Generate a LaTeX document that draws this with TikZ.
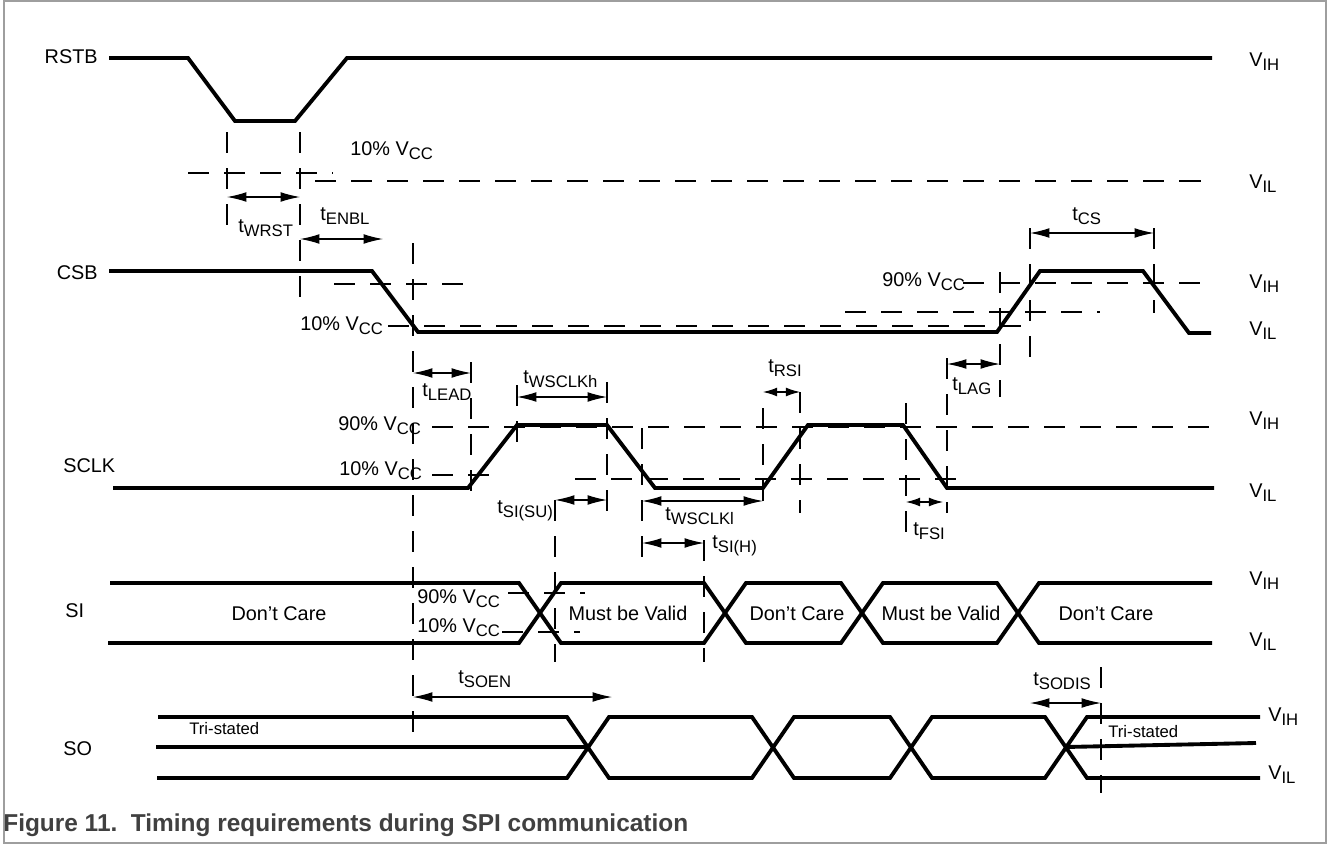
\documentclass[tikz,border=0pt]{standalone}
\usepackage{fontspec}
\setmainfont{Liberation Sans}
\usetikzlibrary{arrows.meta}
\definecolor{framegray}{gray}{0.62}
\definecolor{capgray}{gray}{0.25}
\newcommand{\lowsub}[1]{\raisebox{-2.8pt}{\fontsize{9.5}{10}\selectfont#1}}
\newcommand{\tsub}[1]{t\lowsub{#1}}
\newcommand{\vcc}{V\lowsub{CC}}
\tikzset{>={Latex[length=11pt,width=5.5pt]},
  sig/.style={line width=2.2pt},
  lvl/.style={line width=0.6pt, dash pattern=on 12pt off 8.5pt},
  dim/.style={<->, line width=0.6pt},
  shortdim/.style={dim, >={Latex[length=8pt,width=5pt]}}}

\begin{document}
\begin{tikzpicture}[x=0.02cm, y=-0.02cm, every node/.style={inner sep=0pt, font=\fontsize{11.3}{13.5}\selectfont}]
    \useasboundingbox (0,0) rectangle (1330,845);
    \draw[framegray, line width=0.8pt] (4,1) rectangle (1326,843);

    \node[anchor=base east] (rstb) at (98,63) {RSTB};
    \node[anchor=base east] (csb) at (98,279) {CSB};
    \node[anchor=base west] (sclk) at (63,472) {SCLK};
    \node[anchor=base west] (si) at (65,617) {SI};
    \node[anchor=base west] (so) at (63,755) {SO};
    \foreach \y/\l in {66/IH, 188/IL, 288/IH, 335/IL, 425/IH, 497/IL, 585/IH, 646/IL}
        \node[anchor=base west] (v\y) at (1249,\y) {V\lowsub{\l}};
    \node[anchor=base west] (soh) at (1268,721) {V\lowsub{IH}};
    \node[anchor=base west] (sol) at (1268,779) {V\lowsub{IL}};

    \draw[sig] (109,58) -- (188,58) -- (235,121) -- (295,121) -- (347,58) -- (1212,58);
    \draw[sig] (109,271) -- (372,271) -- (418,332) -- (997,332) -- (1040,271) -- (1143,271) -- (1189,333) -- (1211,333);
    \draw[sig] (113,488) -- (468,488) -- (517,425) -- (607,425) -- (655,488) -- (763,488) -- (808,425) -- (903,425) -- (947,488) -- (1214,488);
    \draw[sig] (110,583) -- (519,583) -- (561,643) -- (704,643) -- (746,583) -- (841,583) -- (883,643) -- (997,643) -- (1039,583) -- (1212,583);
    \draw[sig] (108,643) -- (519,643) -- (561,583) -- (704,583) -- (746,643) -- (841,643) -- (883,583) -- (997,583) -- (1039,643) -- (1212,643);
    \draw[sig] (158,717) -- (567,717) -- (609,778) -- (752,778) -- (794,717) -- (890,717) -- (932,778) -- (1045,778) -- (1087,717) -- (1260,717);
    \draw[sig] (157,778) -- (567,778) -- (609,717) -- (752,717) -- (794,778) -- (890,778) -- (932,717) -- (1045,717) -- (1087,778) -- (1260,778);
    \draw[sig] (156,747) -- (588,747);
    \draw[sig] (1066,747) -- (1256,743);

    \draw[lvl] (188,173) -- (333,173);
    \draw[lvl] (315,181) -- (1212,181);
    \draw[lvl] (334,284) -- (468,284);
    \draw[lvl] (963,283) -- (1213,283);
    \draw[lvl] (388,326) -- (1023,326);
    \draw[lvl] (845,312) -- (1100,312);
    \draw[lvl] (432,427) -- (1217,427);
    \draw[lvl] (432,475) -- (494,475);
    \draw[lvl] (575,479) -- (967,479);
    \draw[lvl] (508,593) -- (585,593);
    \draw[lvl] (502,632) -- (580,632);

    \foreach \x/\a/\b in {227/132/230, 300/132/298, 413/243/738, 471/362/503, 517/385/455,
        607/382/522, 642/428/565, 555/500/662, 704/540/662, 763/408/512, 800/392/513,
        906/403/532, 947/358/513, 1000/272/397, 1030/228/363, 1154/228/313, 1101/667/793}
        \draw[lvl] (\x,\a) -- (\x,\b);

    \draw[dim] (227,197) -- (300,197);
    \draw[dim] (300,239) -- (383,239);
    \draw[dim] (1030,233) -- (1154,233);
    \draw[dim] (413,373) -- (471,373);
    \draw[dim] (517,397) -- (607,397);
    \draw[dim] (555,500) -- (607,500);
    \draw[dim] (642,501) -- (763,501);
    \draw[dim] (642,543) -- (704,543);
    \draw[shortdim] (763,392) -- (800,392);
    \draw[dim] (947,364) -- (1000,364);
    \draw[shortdim] (906,502) -- (943,502);
    \draw[dim] (413,697) -- (612,697);
    \draw[dim] (1030,703) -- (1101,703);

    \node[anchor=base west] (r10) at (350,155) {10\% \vcc};
    \node[anchor=base west] (c10) at (300,330) {10\% \vcc};
    \node[anchor=base west] (c90) at (882,286) {90\% \vcc};
    \node[anchor=base west] (k90) at (338,430) {90\% \vcc};
    \node[anchor=base west] (k10) at (339,475) {10\% \vcc};
    \node[anchor=base west] (s90) at (417,603) {90\% \vcc};
    \node[anchor=base west] (s10) at (417,632) {10\% \vcc};

    \node[anchor=base west] (twrst) at (238,232) {\tsub{WRST}};
    \node[anchor=base west] (tenbl) at (320,220) {\tsub{ENBL}};
    \node[anchor=base west] (tcs) at (1072,220) {\tsub{CS}};
    \node[anchor=base west] (tlead) at (422,396) {\tsub{LEAD}};
    \node[anchor=base west] (twh) at (523,383) {\tsub{WSCLKh}};
    \node[anchor=base west] (tsu) at (497,513) {\tsub{SI(SU)}};
    \node[anchor=base west] (twl) at (665,520) {\tsub{WSCLKl}};
    \node[anchor=base west] (th) at (712,548) {\tsub{SI(H)}};
    \node[anchor=base west] (trsi) at (768,372) {\tsub{RSI}};
    \node[anchor=base west] (tlag) at (952,390) {\tsub{LAG}};
    \node[anchor=base west] (tfsi) at (913,535) {\tsub{FSI}};
    \node[anchor=base west] (tsoen) at (458,683) {\tsub{SOEN}};
    \node[anchor=base west] (tsodis) at (1033,685) {\tsub{SODIS}};

    \node[anchor=base] (dc1) at (279,620) {Don’t Care};
    \node[anchor=base] (mv1) at (628,620) {Must be Valid};
    \node[anchor=base] (dc2) at (797,620) {Don’t Care};
    \node[anchor=base] (mv2) at (941,620) {Must be Valid};
    \node[anchor=base] (dc3) at (1106,620) {Don’t Care};
    \node[anchor=base west, font=\fontsize{9.5}{11}\selectfont] (tri1) at (189,734) {Tri-stated};
    \node[anchor=base west, font=\fontsize{9.5}{11}\selectfont] (tri2) at (1108,737) {Tri-stated};

    \node[anchor=base west, text=capgray, font=\bfseries\fontsize{13.9}{16}\selectfont] (cap) at (3,831)
        {Figure 11.\ \ Timing requirements during SPI communication};
\end{tikzpicture}
\end{document}
